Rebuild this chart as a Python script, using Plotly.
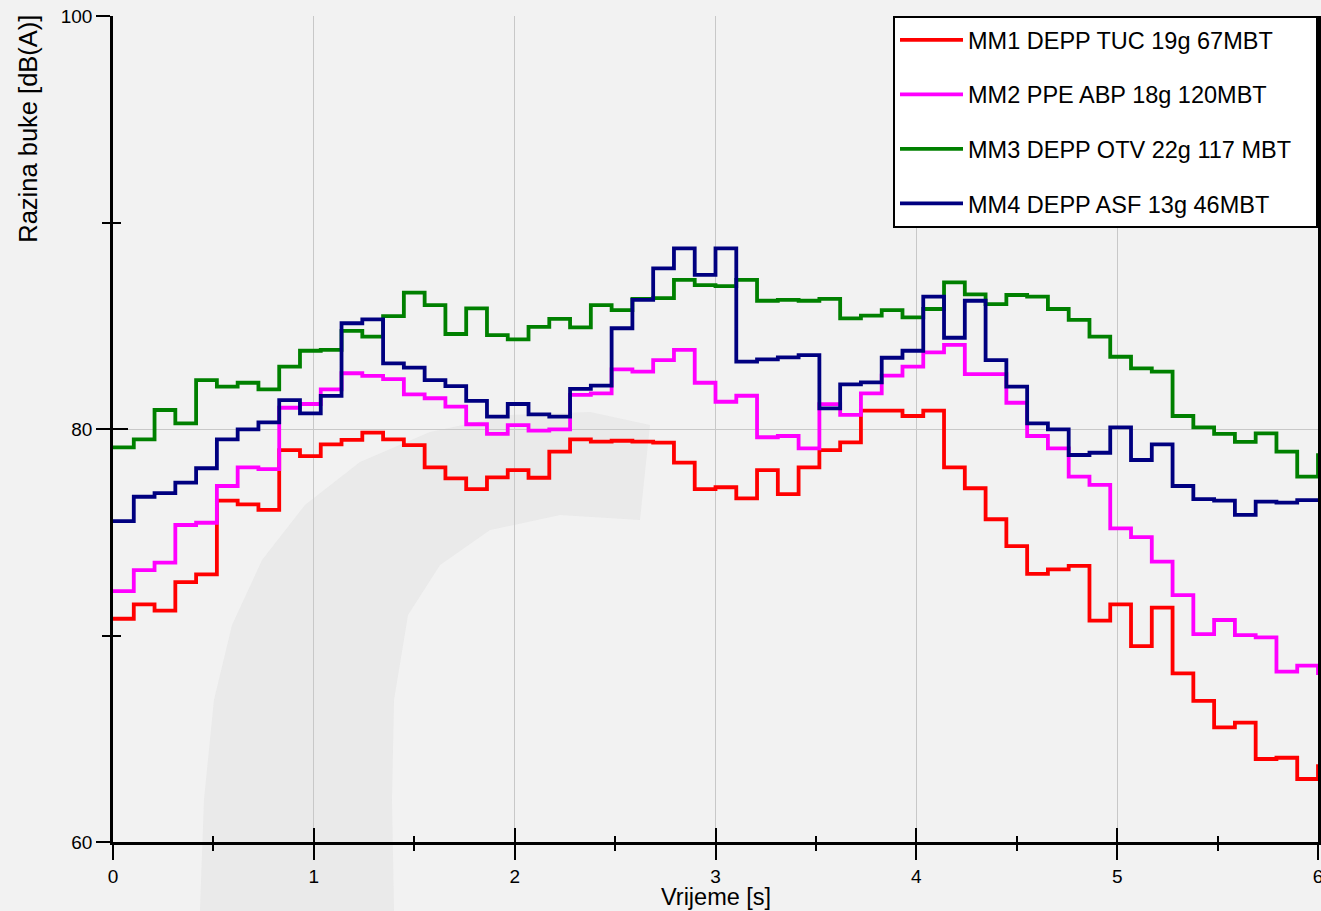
import plotly.graph_objects as go

# Noise level per analysis frame, 58 frames over 6 s (last value repeats at the end edge)
FRAME_S = 6 / 58
time_s = [k * FRAME_S for k in range(59)]

mm1_tuc = [70.81, 71.51, 71.2, 72.58, 72.96, 76.53, 76.35, 76.08, 78.98, 78.69,
           79.26, 79.47, 79.82, 79.5, 79.22, 78.14, 77.61, 77.09, 77.66, 78.01,
           77.64, 78.9, 79.5, 79.39, 79.43, 79.39, 79.34, 78.37, 77.09, 77.18,
           76.64, 78.01, 76.85, 78.14, 78.98, 79.35, 80.89, 80.89, 80.63, 80.89,
           78.14, 77.13, 75.63, 74.33, 72.98, 73.2, 73.37, 70.72, 71.51, 69.49,
           71.35, 68.17, 66.83, 65.55, 65.78, 64.02, 64.08, 63.05, 63.76]

mm2_abp = [72.15, 73.17, 73.53, 75.35, 75.46, 77.24, 78.14, 78.06, 81.03, 81.21,
           81.92, 82.7, 82.57, 82.42, 81.68, 81.49, 81.08, 80.23, 79.76, 80.19,
           79.92, 79.98, 81.65, 81.73, 82.89, 82.78, 83.34, 83.83, 82.24, 81.32,
           81.61, 79.6, 79.66, 79.06, 81.2, 80.68, 81.73, 82.58, 83.02, 83.71,
           84.07, 82.66, 82.66, 81.27, 79.66, 79.06, 77.69, 77.29, 75.19, 74.76,
           73.58, 71.96, 70.07, 70.75, 70.02, 69.91, 68.25, 68.54, 68.09]

mm3_otv = [79.11, 79.5, 80.92, 80.27, 82.37, 82.05, 82.24, 81.92, 83.02, 83.79,
           83.83, 84.75, 84.47, 85.47, 86.6, 86.0, 84.6, 85.84, 84.55, 84.34,
           84.95, 85.33, 84.92, 86.0, 85.76, 86.3, 86.34, 87.22, 86.97, 86.92,
           87.22, 86.21, 86.25, 86.21, 86.3, 85.36, 85.49, 85.76, 85.41, 85.81,
           87.1, 86.52, 86.05, 86.49, 86.41, 85.81, 85.28, 84.47, 83.5, 82.94,
           82.78, 80.63, 80.08, 79.76, 79.38, 79.79, 78.9, 77.69, 78.82]

mm4_asf = [75.54, 76.72, 76.89, 77.4, 78.1, 79.5, 79.98, 80.32, 81.4, 80.76,
           81.6, 85.12, 85.31, 83.18, 82.97, 82.37, 82.08, 81.36, 80.6, 81.21,
           80.71, 80.6, 81.94, 82.1, 84.88, 86.25, 87.78, 88.75, 87.46, 88.75,
           83.26, 83.37, 83.47, 83.58, 81.0, 82.16, 82.26, 83.45, 83.79, 86.41,
           84.42, 86.21, 83.34, 82.05, 80.27, 79.98, 78.74, 78.85, 80.08, 78.5,
           79.26, 77.24, 76.6, 76.53, 75.84, 76.48, 76.43, 76.56, 76.56]

series_names = ["MM1 DEPP TUC 19g 67MBT", "MM2 PPE ABP 18g 120MBT",
                "MM3 DEPP OTV 22g 117 MBT", "MM4 DEPP ASF 13g 46MBT"]
series_values = [mm1_tuc, mm2_abp, mm3_otv, mm4_asf]
series_colors = ["#ff0000", "#ff00ff", "#008000", "#000080"]

FONT = "Liberation Sans, Arial, sans-serif"
W, H = 1321, 911
M_L, M_R, M_T, M_B = 113, 3, 16, 69
LEGEND_PAD = "\u00a0\u00a0\u00a0"  # extra room on the right side of the legend box


def to_paper(px, py):
    """Convert a page pixel position into paper coordinates."""
    pw, ph = W - M_L - M_R, H - M_T - M_B
    return (px - M_L) / pw, (H - M_B - py) / ph


def paper_path(points):
    pts = [to_paper(x, y) for x, y in points]
    return "M " + " L ".join(f"{x:.4f},{y:.4f}" for x, y in pts) + " Z"


# faint watermark-style backdrop: a soft grey arc band behind the data
arc_band = [(200, 911), (204, 800), (214, 700), (232, 625), (262, 560),
            (305, 505), (360, 462), (430, 432), (510, 415), (590, 412),
            (650, 425), (640, 520), (560, 515), (490, 530), (440, 565),
            (408, 615), (394, 700), (392, 800), (394, 911)]

shapes = [dict(type="path", xref="paper", yref="paper", layer="below",
               path=paper_path(arc_band), fillcolor="rgba(205,205,205,0.22)",
               line=dict(width=0))]

fig = go.Figure()
for name, vals, col in zip(series_names, series_values, series_colors):
    fig.add_trace(go.Scatter(
        x=time_s, y=vals, name=name + LEGEND_PAD, mode="lines",
        line=dict(color=col, width=3.8, shape="hv"),
        legendgroup=name,
    ))

# empty trace so the overlay axes (inner halves of the crossing ticks) get drawn
fig.add_trace(go.Scatter(x=[None], y=[None], xaxis="x2", yaxis="y2",
                         showlegend=False, hoverinfo="skip"))

axis_line = dict(showline=True, linecolor="black", linewidth=2.5)
tick_style = dict(tickwidth=2, tickcolor="black")

fig.update_layout(
    width=W, height=H,
    margin=dict(l=M_L, r=M_R, t=M_T, b=M_B, autoexpand=False),
    paper_bgcolor="#f2f2f2",
    plot_bgcolor="rgba(0,0,0,0)",
    font=dict(family=FONT, color="black", size=19),
    showlegend=True,
    legend=dict(
        x=1, y=1, xanchor="right", yanchor="top",
        bgcolor="white", bordercolor="black", borderwidth=2,
        font=dict(size=23.5, family=FONT),
        tracegroupgap=21, itemwidth=63,
    ),
    shapes=shapes,
    xaxis=dict(
        range=[0, 6], **axis_line, automargin=False,
        tick0=0, dtick=1, ticks="outside", ticklen=15, **tick_style,
        ticklabeloverflow="allow",
        minor=dict(tick0=0, dtick=0.5, ticks="outside", ticklen=6,
                   showgrid=False, **tick_style),
        showgrid=True, gridcolor="#c8c8c8", gridwidth=1,
        zeroline=False, tickfont=dict(size=19),
    ),
    xaxis2=dict(
        range=[0, 6], overlaying="x", anchor="y2", side="bottom",
        automargin=False,
        showline=False, showgrid=False, zeroline=False, showticklabels=False,
        tick0=0, dtick=1, ticks="inside", ticklen=14, **tick_style,
        minor=dict(tick0=0, dtick=0.5, ticks="inside", ticklen=6,
                   showgrid=False, **tick_style),
    ),
    yaxis=dict(
        range=[60, 100], **axis_line, mirror=True, automargin=False,
        tick0=60, dtick=20, ticks="outside", ticklen=14, **tick_style,
        minor=dict(tick0=60, dtick=10, ticks="outside", ticklen=8,
                   showgrid=False, **tick_style),
        showgrid=True, gridcolor="#c8c8c8", gridwidth=1,
        zeroline=False, tickfont=dict(size=19),
    ),
    yaxis2=dict(
        range=[60, 100], overlaying="y", anchor="x2", side="left",
        automargin=False,
        showline=False, showgrid=False, zeroline=False, showticklabels=False,
        tick0=60, dtick=20, ticks="inside", ticklen=15, **tick_style,
        minor=dict(tick0=60, dtick=10, ticks="inside", ticklen=8,
                   showgrid=False, **tick_style),
    ),
    annotations=[
        dict(text="Vrijeme [s]", xref="paper", yref="paper", x=0.5, y=-0.067,
             xanchor="center", yanchor="middle", showarrow=False,
             font=dict(size=23.5, family=FONT)),
        dict(text="Razina buke [dB(A)]", xref="paper", yref="paper",
             x=-0.0705, y=1.004, xanchor="center", yanchor="top", textangle=-90,
             showarrow=False, font=dict(size=25.5, family=FONT)),
    ],
)

fig.write_html("out.html")
